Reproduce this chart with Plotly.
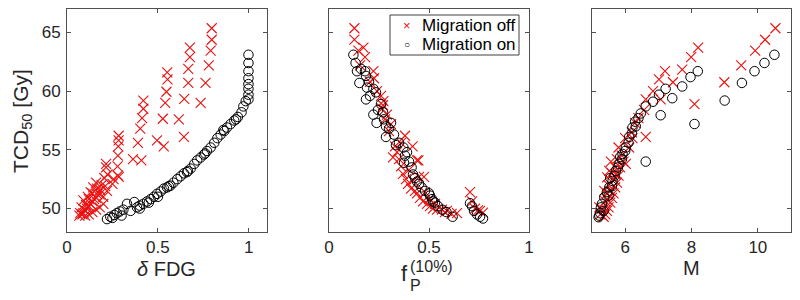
import plotly.graph_objects as go

# ---------------- data ----------------
# Panel 1: delta FDG vs TCD50
fdg_off = [0.796, 0.796, 0.79, 0.78, 0.762, 0.735,
           0.676, 0.676, 0.667, 0.667, 0.645, 0.615, 0.643,
           0.551, 0.553, 0.547, 0.54, 0.527, 0.495, 0.532,
           0.42, 0.42, 0.413, 0.403, 0.39, 0.363, 0.409,
           0.284, 0.284, 0.282, 0.28, 0.278, 0.285, 0.256,
           0.215, 0.215, 0.223, 0.205, 0.21, 0.182, 0.166, 0.16, 0.144, 0.13, 0.115,
           0.09, 0.08, 0.072, 0.068,
           0.10, 0.12, 0.14, 0.16, 0.18, 0.20, 0.10, 0.12, 0.14, 0.16, 0.18,
           0.09, 0.11, 0.13, 0.15, 0.085, 0.095, 0.105, 0.12, 0.14, 0.165, 0.19,
           0.20, 0.22, 0.25, 0.28]
tcd_off_1 = [65.36, 64.38, 63.45, 62.2, 60.7, 59.0,
             63.7, 62.9, 61.9, 60.7, 59.35, 57.6, 56.1,
             61.6, 61.0, 59.95, 59.0, 57.65, 55.8, 55.3,
             59.2, 58.5, 57.7, 56.8, 55.6, 54.2, 54.1,
             56.2, 55.8, 55.3, 54.5, 53.6, 52.7, 52.5,
             53.8, 53.5, 52.9, 52.6, 51.9, 51.6, 51.2, 52.2, 51.8, 51.4, 51.0,
             50.7, 50.1, 49.6, 49.4,
             49.4, 49.5, 49.7, 49.9, 50.1, 50.4, 49.8, 50.2, 50.6, 50.9, 51.2,
             49.6, 50.0, 50.4, 50.8, 49.5, 49.9, 50.3, 50.8, 51.3, 51.7, 52.0,
             51.0, 51.5, 52.1, 52.8]

fdg_on = [0.998, 0.998, 0.998, 0.998, 0.998, 0.998, 0.998, 0.998, 0.983, 0.97,
          0.96, 0.94, 0.92, 0.90, 0.88, 0.865, 0.845, 0.827, 0.81, 0.79,
          0.77, 0.753, 0.735, 0.716, 0.70, 0.68, 0.665, 0.643, 0.625, 0.606,
          0.585, 0.569, 0.55, 0.533, 0.515, 0.495, 0.478, 0.46, 0.44, 0.42,
          0.40, 0.385, 0.37, 0.33, 0.31, 0.29, 0.274, 0.26, 0.238, 0.22,
          0.25, 0.30, 0.35, 0.40, 0.45, 0.50, 0.56, 0.66, 0.76, 0.86, 0.93]
tcd_on_1 = [63.1, 62.4, 61.7, 61.1, 60.6, 60.2, 59.7, 59.3, 59.15, 58.7,
            58.2, 57.8, 57.5, 57.2, 56.9, 56.6, 56.3, 56.0, 55.6, 55.2,
            54.9, 54.6, 54.35, 54.1, 53.8, 53.4, 53.2, 53.0, 52.75, 52.5,
            52.2, 51.95, 51.8, 51.7, 51.45, 51.25, 51.0, 50.8, 50.6, 50.4,
            50.25, 50.1, 50.55, 50.4, 49.9, 49.75, 49.6, 49.45, 49.3, 49.1,
            49.2, 49.4, 49.8, 50.0, 50.5, 51.0, 51.9, 53.1, 54.7, 56.7, 57.6]

# Panel 2: f_P(10%) vs TCD50
fp_off = [0.127, 0.127, 0.147, 0.172, 0.18, 0.155, 0.222, 0.225, 0.205, 0.24,
          0.272, 0.26, 0.28, 0.265, 0.29, 0.31, 0.38, 0.418, 0.447, 0.475,
          0.35, 0.33, 0.34, 0.32, 0.36, 0.37, 0.385, 0.395, 0.41, 0.43,
          0.44, 0.455, 0.47, 0.49, 0.505, 0.52, 0.54, 0.565, 0.58, 0.59,
          0.613, 0.64, 0.44, 0.45, 0.40, 0.42, 0.48, 0.50, 0.53,
          0.705, 0.715, 0.73, 0.745, 0.755, 0.77, 0.36, 0.30, 0.27]
tcd_off_2 = [65.36, 64.4, 63.45, 63.7, 62.9, 62.2, 61.7, 61.1, 60.8, 60.0,
             59.15, 59.6, 57.6, 58.5, 58.0, 57.2, 56.2, 55.3, 54.1, 52.7,
             54.2, 55.3, 54.8, 54.35, 53.6, 52.95, 52.5, 52.1, 51.7, 51.5,
             51.3, 50.9, 50.6, 50.4, 50.2, 50.0, 49.9, 49.9, 49.7, 49.8,
             49.55, 49.6, 54.1, 52.7, 53.3, 52.4, 51.4, 50.8, 50.4,
             51.4, 50.6, 50.0, 49.85, 49.8, 49.65, 55.6, 56.6, 58.8]

fp_on = [0.122, 0.133, 0.14, 0.152, 0.18, 0.185, 0.19, 0.185, 0.205, 0.222,
         0.235, 0.222, 0.238, 0.245, 0.27, 0.275, 0.285, 0.285, 0.31, 0.325,
         0.335, 0.372, 0.38, 0.375, 0.413, 0.42, 0.44, 0.463, 0.48, 0.505,
         0.52, 0.545, 0.567, 0.587, 0.618, 0.705, 0.715, 0.725, 0.74, 0.755,
         0.77, 0.39, 0.40, 0.43, 0.45, 0.50, 0.515, 0.53, 0.35, 0.30,
         0.26, 0.20, 0.16]
tcd_on_2 = [63.1, 62.4, 61.7, 60.7, 61.7, 61.3, 60.3, 59.3, 59.6, 60.2,
            59.9, 58.0, 57.3, 58.4, 58.2, 57.6, 56.1, 57.0, 57.3, 56.3,
            55.4, 55.2, 54.5, 53.9, 53.5, 52.9, 52.3, 51.8, 51.5, 51.1,
            50.6, 50.2, 49.9, 49.7, 49.3, 50.45, 50.2, 49.8, 49.5, 49.3,
            49.15, 54.8, 54.0, 52.6, 52.1, 51.3, 50.8, 50.5, 55.6, 56.8,
            58.9, 60.8, 61.9]

# Panel 3: M vs TCD50
m_off = [10.53, 10.22, 9.92, 9.5, 8.99, 8.2, 7.99, 7.72, 7.44, 7.2,
         7.02, 7.07, 6.84, 8.09, 6.62, 6.57, 6.62, 6.4, 6.3, 6.22,
         6.12, 6.02, 5.9, 5.85, 5.8, 5.75, 5.7, 5.65, 5.6, 5.55,
         5.5, 5.45, 5.4, 5.35, 5.5, 5.45, 5.4, 5.6, 5.7, 5.75,
         5.3, 5.25, 5.8, 6.0, 6.2, 5.95, 5.65, 5.55, 5.45, 5.57,
         5.52, 5.37, 5.22, 5.72, 5.46]
tcd_off_3 = [65.36, 64.38, 63.45, 62.2, 60.76, 63.7, 62.9, 61.84, 60.76, 61.7,
             61.0, 59.3, 60.0, 58.9, 59.3, 58.4, 56.1, 57.7, 57.3, 56.0,
             55.2, 53.8, 54.5, 53.5, 52.8, 52.2, 51.8, 51.3, 50.9, 50.5,
             50.1, 49.8, 49.5, 49.3, 52.0, 51.3, 50.6, 53.0, 53.5, 54.2,
             50.0, 49.5, 55.2, 56.0, 56.5, 54.0, 52.5, 51.5, 50.8, 54.0,
             53.2, 51.5, 50.1, 52.9, 52.65]

m_on = [10.5, 10.2, 9.9, 9.52, 9.0, 8.19, 7.97, 7.72, 7.42, 7.22,
        7.02, 7.07, 6.84, 8.09, 6.62, 6.62, 6.47, 6.4, 6.32, 6.22,
        6.12, 6.02, 5.92, 5.82, 5.72, 5.62, 5.52, 5.37, 5.27, 5.2,
        5.25, 5.3, 5.45, 5.55, 5.68, 5.78, 5.9, 6.0, 6.2, 6.3,
        5.5, 5.35, 5.22, 5.6, 5.85, 6.1]
tcd_on_3 = [63.1, 62.4, 61.7, 60.7, 59.2, 61.7, 61.2, 60.4, 59.4, 60.2,
            59.7, 57.95, 59.1, 57.2, 54.0, 58.7, 58.1, 57.7, 57.0, 56.9,
            56.1, 55.2, 54.65, 53.8, 53.2, 52.35, 51.8, 50.95, 50.1, 49.26,
            49.6, 50.4, 51.4, 52.6, 52.8, 53.5, 54.2, 54.9, 56.4, 57.4,
            51.1, 49.8, 49.4, 51.9, 54.4, 55.6]

x_titles = ["<i>δ</i> FDG", "M"]
y_title = "TCD<sub>50</sub> [Gy]"
legend_names = ["Migration off", "Migration on"]
y_ticks = [50, 55, 60, 65]
x_ticks = [[0, 0.5, 1], [0, 0.5, 1], [6, 8, 10]]
x_ranges = [[0, 1.1], [0, 1], [5, 11]]
y_range = [48, 67]

# ---------------- figure ----------------
# The page body has an 8px margin, so the figure starts at (8, 8) in the window.
OFF = 8
W, H = 800 - OFF, 300 - OFF
FONT = "Liberation Sans, Arial, Helvetica, sans-serif"
TXT = "#262626"
AX = "#505050"
RED = "#ec1010"

clip = lambda v: max(0.0, min(1.0, v))
P = lambda px: (px - OFF) / W          # window x pixel -> paper x
Q = lambda py: (300 - py) / H          # window y pixel -> paper y

fig = go.Figure()
panels = [(fdg_off, tcd_off_1, fdg_on, tcd_on_1),
          (fp_off, tcd_off_2, fp_on, tcd_on_2),
          (m_off, tcd_off_3, m_on, tcd_on_3)]
for i, (xo, yo, xn, yn) in enumerate(panels):
    xa = "x" if i == 0 else f"x{i+1}"
    ya = "y" if i == 0 else f"y{i+1}"
    fig.add_trace(go.Scatter(x=xo, y=yo, mode="markers", xaxis=xa, yaxis=ya,
                             name=legend_names[0], legendgroup="off",
                             marker=dict(symbol="x-thin-open", size=10, color=RED,
                                         line=dict(color=RED, width=1.1)),
                             showlegend=False, hoverinfo="skip"))
    fig.add_trace(go.Scatter(x=xn, y=yn, mode="markers", xaxis=xa, yaxis=ya,
                             name=legend_names[1], legendgroup="on",
                             marker=dict(symbol="circle-open", size=9.5, color="black",
                                         line=dict(color="black", width=1)),
                             showlegend=False, hoverinfo="skip"))

doms = [[P(67), P(267)], [P(329), P(529)], [P(592), P(791)]]
ydom = [clip(Q(232)), clip(Q(9))]
axis_common = dict(showline=True, linecolor=AX, linewidth=1, mirror="ticks",
                   ticks="inside", ticklen=4, tickcolor=AX, tickwidth=1,
                   showgrid=False, zeroline=False,
                   tickfont=dict(family=FONT, size=17, color=TXT))
layout = dict(width=W, height=H, margin=dict(l=0, r=0, t=0, b=0, autoexpand=False),
              paper_bgcolor="white", plot_bgcolor="white", showlegend=False,
              font=dict(family=FONT, color=TXT))
for i in range(3):
    xk = "xaxis" if i == 0 else f"xaxis{i+1}"
    yk = "yaxis" if i == 0 else f"yaxis{i+1}"
    ya = "y" if i == 0 else f"y{i+1}"
    xa = "x" if i == 0 else f"x{i+1}"
    layout[xk] = dict(axis_common, domain=doms[i], anchor=ya, range=x_ranges[i],
                      tickvals=x_ticks[i], ticklabelstandoff=0)
    layout[yk] = dict(axis_common, domain=ydom, anchor=xa, range=y_range,
                      tickvals=y_ticks, showticklabels=(i == 0),
                      ticklabelstandoff=2)
    if i > 0:
        layout[yk]["matches"] = "y"
fig.update_layout(**layout)

ann = []
def add_text(text, x, y, size, xanchor="center", angle=0, color=TXT):
    ann.append(dict(text=text, x=P(x), y=Q(y), xref="paper", yref="paper",
                    showarrow=False, xanchor=xanchor, yanchor="middle",
                    textangle=angle, font=dict(family=FONT, size=size, color=color)))

add_text(x_titles[0], 166, 269, 20)
add_text(x_titles[1], 691, 268, 20)
# f_P^(10%) built from stacked sub/superscript pieces
add_text("f", 410, 273, 22, xanchor="right")
add_text("(10%)", 408, 266, 16, xanchor="left")
add_text("P", 408, 285, 16, xanchor="left")
add_text(y_title, 22, 121, 21, angle=-90)

# legend box (top-right corner of the middle panel)
shapes = [dict(type="rect", xref="paper", yref="paper",
               x0=P(390), x1=P(519), y0=Q(55), y1=Q(15),
               line=dict(color="#404040", width=1), fillcolor="white", layer="above")]
add_text("×", 407, 25, 13, color=RED)
add_text("○", 407, 45, 10, color="black")
add_text(legend_names[0], 420, 25, 17, xanchor="left", color="black")
add_text(legend_names[1], 420, 45, 17, xanchor="left", color="black")

fig.update_layout(annotations=ann, shapes=shapes)
fig.write_html("out.html")
